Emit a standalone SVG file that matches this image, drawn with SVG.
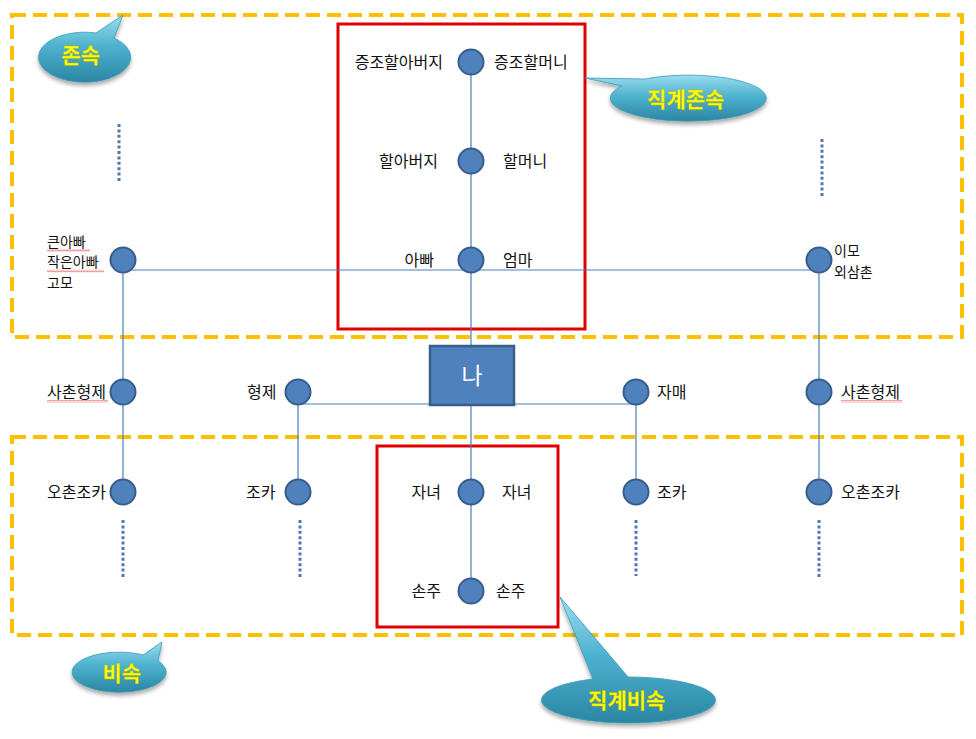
<svg xmlns="http://www.w3.org/2000/svg" width="976" height="739" viewBox="0 0 976 739">
<defs>
<linearGradient id="callg" x1="0" y1="0" x2="0" y2="1">
<stop offset="0" stop-color="#9ADDEF"/>
<stop offset="0.45" stop-color="#4FB3CF"/>
<stop offset="1" stop-color="#2A86A3"/>
</linearGradient>
<filter id="sh" x="-20%" y="-20%" width="140%" height="150%">
<feGaussianBlur in="SourceAlpha" stdDeviation="2"/>
<feOffset dx="0" dy="3" result="b"/>
<feComponentTransfer><feFuncA type="linear" slope="0.35"/></feComponentTransfer>
<feMerge><feMergeNode/><feMergeNode in="SourceGraphic"/></feMerge>
</filter>
<pattern id="sq" width="4" height="3" patternUnits="userSpaceOnUse">
<path d="M0 2.5 L1 0.5 L2 2.5 L3 0.5 L4 2.5" fill="none" stroke="#E04040" stroke-width="0.5"/>
</pattern>
</defs>
<style>
.zone{fill:none;stroke:#FFC000;stroke-width:4;stroke-dasharray:14 7}
.red{fill:none;stroke:#E00000;stroke-width:3}
.n{fill:#4F81BD;stroke:#385D8A;stroke-width:2}
.ln{stroke:#4A7EBB;stroke-width:1.2;fill:none}
.dot{stroke:#5078AE;stroke-width:3;stroke-dasharray:3 2.4;fill:none}
.t{font-family:"Noto Sans CJK KR","Noto Sans",sans-serif;font-size:16px;fill:#111}
.s{font-size:14px}
.e{text-anchor:end}
.call{fill:url(#callg);stroke:#3A9AB8;stroke-width:0.8}
.ct{font-family:"Noto Sans CJK KR",sans-serif;font-weight:bold;font-size:21px;fill:#FFFF00;stroke:#C8B800;stroke-width:0.4;text-anchor:middle}
.sq{fill:url(#sq)}
</style>
<rect width="976" height="739" fill="#FFFFFF"/>
<rect class="zone" x="12" y="15" width="950" height="322"/>
<rect class="zone" x="12" y="437" width="950" height="198"/>
<rect class="red" x="338" y="24" width="247" height="305"/>
<rect class="red" x="377" y="446" width="181" height="181"/>
<g id="connectors">
<line class="ln" x1="471" y1="62" x2="471" y2="591"/>
<line class="ln" x1="123" y1="270" x2="819" y2="270"/>
<line class="ln" x1="123" y1="260" x2="123" y2="492"/>
<line class="ln" x1="819" y1="260" x2="819" y2="492"/>
<line class="ln" x1="298" y1="404" x2="636" y2="404"/>
<line class="ln" x1="298" y1="392" x2="298" y2="492"/>
<line class="ln" x1="636" y1="392" x2="636" y2="492"/>
<line class="dot" x1="119" y1="124" x2="119" y2="181"/>
<line class="dot" x1="822" y1="139" x2="822" y2="196"/>
<line class="dot" x1="123" y1="520" x2="123" y2="579"/>
<line class="dot" x1="300" y1="520" x2="300" y2="578"/>
<line class="dot" x1="636" y1="520" x2="636" y2="576"/>
<line class="dot" x1="819" y1="520" x2="819" y2="578"/>
</g>
<g id="me">
<rect x="430" y="346" width="84" height="59" fill="#4F81BD" stroke="#385D8A" stroke-width="2.5"/>
<text x="472" y="384" font-family="Noto Sans CJK KR,sans-serif" font-size="23" fill="#FFFFFF" text-anchor="middle">나</text>
</g>
<g id="n-great">
<circle class="n" cx="471" cy="62" r="12.5"/>
<text class="t e" x="443" y="68">증조할아버지</text>
<text class="t" x="494" y="68">증조할머니</text>
</g>
<g id="n-grand">
<circle class="n" cx="471" cy="161" r="12.5"/>
<text class="t e" x="438" y="167">할아버지</text>
<text class="t" x="503" y="167">할머니</text>
</g>
<g id="n-parent">
<circle class="n" cx="471" cy="260" r="12.5"/>
<text class="t e" x="434" y="266">아빠</text>
<text class="t" x="503" y="266">엄마</text>
</g>
<g id="n-uncle">
<circle class="n" cx="123" cy="260" r="12.5"/>
<text class="t s" x="47" y="246.5"><tspan x="47">큰아빠</tspan><tspan x="47" dy="20.5">작은아빠</tspan><tspan x="47" dy="20.5">고모</tspan></text>
<rect class="sq" x="47" y="249" width="43" height="3"/>
<rect class="sq" x="47" y="269.5" width="57" height="3"/>
</g>
<g id="n-aunt">
<circle class="n" cx="819" cy="260" r="12.5"/>
<text class="t s" x="834" y="256"><tspan x="834">이모</tspan><tspan x="834" dy="20.5">외삼촌</tspan></text>
</g>
<g id="n-cousin-l">
<circle class="n" cx="123" cy="392" r="12.5"/>
<text class="t" x="47" y="398">사촌형제</text>
<rect class="sq" x="47" y="400" width="61" height="3"/>
</g>
<g id="n-brother">
<circle class="n" cx="298" cy="392" r="12.5"/>
<text class="t" x="247" y="398">형제</text>
</g>
<g id="n-sister">
<circle class="n" cx="636" cy="392" r="12.5"/>
<text class="t" x="657" y="398">자매</text>
</g>
<g id="n-cousin-r">
<circle class="n" cx="819" cy="392" r="12.5"/>
<text class="t" x="841" y="398">사촌형제</text>
<rect class="sq" x="841" y="400" width="61" height="3"/>
</g>
<g id="n-ocousin-l">
<circle class="n" cx="123" cy="492" r="12.5"/>
<text class="t" x="47" y="498">오촌조카</text>
</g>
<g id="n-nephew-l">
<circle class="n" cx="298" cy="492" r="12.5"/>
<text class="t" x="246" y="498">조카</text>
</g>
<g id="n-child">
<circle class="n" cx="471" cy="492" r="12.5"/>
<text class="t e" x="441" y="498">자녀</text>
<text class="t" x="502" y="498">자녀</text>
</g>
<g id="n-nephew-r">
<circle class="n" cx="636" cy="492" r="12.5"/>
<text class="t" x="657" y="498">조카</text>
</g>
<g id="n-ocousin-r">
<circle class="n" cx="819" cy="492" r="12.5"/>
<text class="t" x="841" y="498">오촌조카</text>
</g>
<g id="n-grandchild">
<circle class="n" cx="471" cy="591" r="12.5"/>
<text class="t e" x="441" y="597">손주</text>
<text class="t" x="496" y="597">손주</text>
</g>
<g id="c-ancestors" filter="url(#sh)">
<path class="call" d="M96 33 L123 15 L114 38 A46 25 0 1 1 96 33 Z"/>
<text class="ct" x="81" y="63">존속</text>
</g>
<g id="c-direct-ancestors" filter="url(#sh)">
<path class="call" d="M622 86 L585 78 L645 79 A78 23 0 1 1 622 86 Z"/>
<text class="ct" x="686" y="107">직계존속</text>
</g>
<g id="c-descendants" filter="url(#sh)">
<path class="call" d="M143 655 L162 642 L158 661 A47 20 0 1 1 143 655 Z"/>
<text class="ct" x="122" y="681">비속</text>
</g>
<g id="c-direct-descendants" filter="url(#sh)">
<path class="call" d="M593 679 L560 597 L628 677 A87 23 0 1 1 593 679 Z"/>
<text class="ct" x="627" y="708">직계비속</text>
</g>
</svg>
